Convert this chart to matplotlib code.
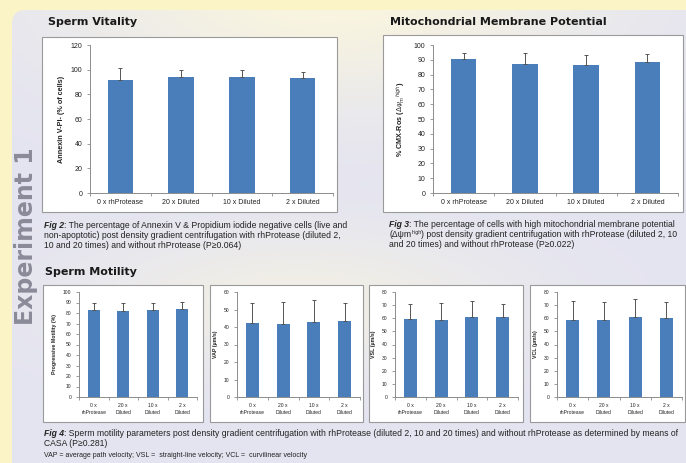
import numpy as np
import matplotlib
matplotlib.use("Agg")
import matplotlib.pyplot as plt
from matplotlib.patches import FancyBboxPatch, Rectangle

# categories
cats_long = ["0 x rhProtease", "20 x Diluted", "10 x Diluted", "2 x Diluted"]
cats_short = ["0 x\nrhProtease", "20 x\nDiluted", "10 x\nDiluted", "2 x\nDiluted"]

# Fig 2 - sperm vitality
vit_mean = [92.0, 93.8, 93.8, 93.5]
vit_err = [9.2, 5.9, 5.7, 4.6]

# Fig 3 - mitochondrial membrane potential
mmp_mean = [90.3, 87.1, 86.2, 88.5]
mmp_err = [4.1, 7.3, 6.8, 5.4]

# Fig 4 - motility
prog_mean = [83.2, 81.9, 83.2, 83.5]
prog_err = [6.3, 7.9, 6.0, 6.7]
vap_mean = [42.4, 41.7, 42.8, 43.4]
vap_err = [11.5, 12.6, 12.8, 10.5]
vsl_mean = [59.3, 58.8, 60.8, 60.6]
vsl_err = [11.4, 12.7, 12.2, 10.6]
vcl_mean = [59.0, 58.5, 60.8, 60.3]
vcl_err = [13.8, 14.0, 13.8, 12.0]

W, H = 686, 463
BAR = "#4a7ebb"
AXC = "#8c8c8c"
TXT = "#222222"
CAP_FONT = ["Liberation Sans", "DejaVu Sans"]

fig = plt.figure(figsize=(W / 100, H / 100), dpi=100)


def frac(x0, y0, x1, y1):
    return [x0 / W, 1 - y1 / H, (x1 - x0) / W, (y1 - y0) / H]


# background: yellow page + lavender rounded panel with a warm glow on top
bg = fig.add_axes([0, 0, 1, 1])
bg.axis("off")
yy, xx = np.mgrid[0:H, 0:W]
lav = np.array([228, 228, 241]) / 255
cream = np.array([250, 246, 222]) / 255
glow = np.exp(-(((xx - 330) / 260.0) ** 2 + ((yy + 20) / 120.0) ** 2))
glow += 0.6 * np.exp(-(((xx - 300) / 220.0) ** 2 + ((yy - 300) / 70.0) ** 2))
glow = np.clip(glow, 0, 1)[..., None]
img = lav * (1 - glow) + cream * glow
bg.add_patch(Rectangle((0, 0), W, H, color="#fbf4c6", zorder=0))
panel = FancyBboxPatch((12, 10), W + 20, H + 20, boxstyle="round,pad=0,rounding_size=14",
                       facecolor="none", edgecolor="none", zorder=1)
bg.add_patch(panel)
im = bg.imshow(img, extent=(0, W, H, 0), zorder=1, aspect="auto")
im.set_clip_path(panel)
bg.set_xlim(0, W)
bg.set_ylim(H, 0)

bg.text(26, 236, "Experiment 1", rotation=90, ha="center", va="center",
        fontsize=17, fontweight="bold", color="#8a8a99", family=["DejaVu Sans"])

# white chart boxes
boxes = [(42, 37, 337, 212), (383, 35, 683, 212),
         (43, 285, 203, 422), (210, 285, 363, 422),
         (369, 285, 523, 422), (530, 285, 685, 422)]
for x0, y0, x1, y1 in boxes:
    bg.add_patch(Rectangle((x0, y0), x1 - x0, y1 - y0, facecolor="white",
                           edgecolor="#9a9a9a", linewidth=0.8, zorder=2))

# section titles
for x, y, t in [(48, 22, "Sperm Vitality"), (390, 22, "Mitochondrial Membrane Potential"),
                (45, 272, "Sperm Motility")]:
    bg.text(x, y, t, fontsize=8, fontweight="bold", color="#1a1a1a",
            va="center", ha="left", family=["DejaVu Sans"])

CAP = 6.2


def after(prev, s, size=CAP, ycoord=None, top=False):
    # put text s right after the artist prev, on the same baseline
    coords = prev if ycoord is None else (prev, ycoord)
    return bg.annotate(s, xy=(1, 1 if top else 0), xycoords=coords, fontsize=size,
                       color=TXT, va="top" if top else "bottom", ha="left",
                       family=CAP_FONT)


def caption(x, y, label, lines, step=10):
    # y is the baseline of the first line
    lab = bg.text(x, y, label, fontsize=CAP, fontweight="bold", style="italic",
                  color=TXT, va="baseline", ha="left", family=CAP_FONT)
    after(lab, lines[0])
    for i, ln in enumerate(lines[1:], start=1):
        bg.text(x, y + i * step, ln, fontsize=CAP,
                color=TXT, va="baseline", ha="left", family=CAP_FONT)


caption(44, 228, "Fig 2",
        [": The percentage of Annexin V & Propidium iodide negative cells (live and",
         "non-apoptotic) post density gradient centrifugation with rhProtease (diluted 2,",
         "10 and 20 times) and without rhProtease (P\u22650.064)"])
caption(389, 227, "Fig 3",
        [": The percentage of cells with high mitochondrial membrane potential",
         "",
         "and 20 times) and without rhProtease (P\u22650.022)"])
s1 = bg.text(389, 237, "(\u0394\u03c8m", fontsize=CAP, color=TXT, va="baseline",
             ha="left", family=CAP_FONT)
s2 = after(s1, "high", size=3.8, top=True)
after(s2, ") post density gradient centrifugation with rhProtease (diluted 2, 10", ycoord=s1)

caption(44, 436, "Fig 4",
        [": Sperm motility parameters post density gradient centrifugation with rhProtease (diluted 2, 10 and 20 times) and without rhProtease as determined by means of",
         "CASA (P\u22650.281)"])
bg.text(44, 457, "VAP = average path velocity; VSL =  straight-line velocity; VCL =  curvilinear velocity",
        fontsize=5.0, color=TXT, va="baseline", ha="left", family=CAP_FONT)


def bar_chart(rect, means, errs, ymax, step, ylabel, labels, fs, lfs):
    ax = fig.add_axes(frac(*rect))
    ax.set_facecolor("none")
    x = np.arange(len(means))
    ax.bar(x, means, width=0.42, color=BAR, zorder=2)
    ax.errorbar(x, means, yerr=[np.zeros(len(errs)), errs], fmt="none",
                ecolor="#555555", elinewidth=0.7, capsize=1.6, capthick=0.7, zorder=3)
    ax.set_xlim(-0.5, len(means) - 0.5)
    ax.set_ylim(0, ymax)
    ax.set_yticks(np.arange(0, ymax + 0.1, step))
    ax.set_xticks(x)
    ax.set_xticklabels(labels, fontsize=fs, color=TXT, family=CAP_FONT, linespacing=1.6)
    ax.set_xticks(np.arange(-0.5, len(means), 1.0), minor=True)
    ax.tick_params(axis="x", which="major", length=0, pad=4)
    ax.tick_params(axis="x", which="minor", length=2.5, color=AXC, width=0.6)
    ax.tick_params(axis="y", length=2.5, color=AXC, width=0.6, labelsize=fs,
                   labelcolor=TXT, pad=3)
    for lab in ax.get_yticklabels():
        lab.set_family(CAP_FONT)
    for s in ["top", "right"]:
        ax.spines[s].set_visible(False)
    for s in ["left", "bottom"]:
        ax.spines[s].set_color(AXC)
        ax.spines[s].set_linewidth(0.7)
    ax.set_ylabel(ylabel, fontsize=lfs, fontweight="bold", color=TXT,
                  family=CAP_FONT, labelpad=4)
    return ax


bar_chart((90, 45, 333, 193), vit_mean, vit_err, 120, 20,
          "Annexin V-PI- (% of cells)", cats_long, 5.0, 5.2)
bar_chart((433, 45, 678, 193), mmp_mean, mmp_err, 100, 10,
          r"% CMX-Ros ($\Delta\psi_m$$^{high}$)", cats_long, 5.0, 5.2)
bar_chart((79, 292, 197, 397), prog_mean, prog_err, 100, 10,
          "Progressive Motility (%)", cats_short, 3.6, 3.8)
bar_chart((237, 292, 360, 397), vap_mean, vap_err, 60, 10,
          "VAP (\u00b5m/s)", cats_short, 3.6, 3.8)
bar_chart((395, 292, 518, 397), vsl_mean, vsl_err, 80, 10,
          "VSL (\u00b5m/s)", cats_short, 3.6, 3.8)
bar_chart((557, 292, 682, 397), vcl_mean, vcl_err, 80, 10,
          "VCL (\u00b5m/s)", cats_short, 3.6, 3.8)

fig.savefig("out.png", dpi=100)
